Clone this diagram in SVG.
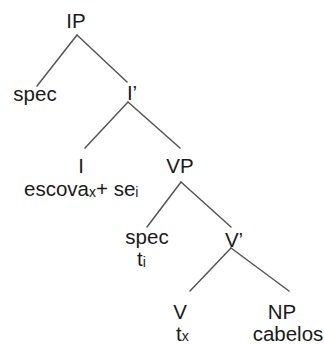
<svg xmlns="http://www.w3.org/2000/svg" width="324" height="345" viewBox="0 0 324 345">
<style>
text{font-family:"Liberation Sans",Arial,sans-serif;font-size:20.5px;fill:#1a1a1a}
.c{text-anchor:middle}
.sub{font-size:14px}
line{stroke:#555;stroke-width:1.5;stroke-linecap:round}
</style>
<rect width="324" height="345" fill="#fff"/>
<g id="connectors">
<line x1="77" y1="35" x2="37" y2="86"/>
<line x1="77" y1="35" x2="127" y2="82"/>
<line x1="128" y1="102" x2="85" y2="148"/>
<line x1="128" y1="102" x2="180" y2="148"/>
<line x1="181" y1="182" x2="147" y2="227"/>
<line x1="181" y1="182" x2="231" y2="227"/>
<line x1="231" y1="248" x2="190" y2="291"/>
<line x1="231" y1="248" x2="289" y2="291"/>
</g>
<g id="IP"><text class="c" x="76" y="28">IP</text></g>
<g id="spec1"><text class="c" x="35" y="101">spec</text></g>
<g id="Ibar"><text class="c" x="132" y="100">I’</text></g>
<g id="I"><text class="c" x="81" y="173">I</text><text x="24" y="196">escova<tspan class="sub" dy="1">x</tspan><tspan dy="-1">+ se</tspan><tspan class="sub" dy="1">i</tspan></text></g>
<g id="VP"><text class="c" x="180" y="173">VP</text></g>
<g id="spec2"><text class="c" x="147" y="244">spec</text><text x="137" y="266">t<tspan class="sub" dy="1">i</tspan></text></g>
<g id="Vbar"><text class="c" x="234" y="247">V’</text></g>
<g id="V"><text class="c" x="180" y="319">V</text><text x="176" y="341">t<tspan class="sub">x</tspan></text></g>
<g id="NP"><text class="c" x="282" y="319">NP</text><text class="c" x="288" y="341">cabelos</text></g>
</svg>
